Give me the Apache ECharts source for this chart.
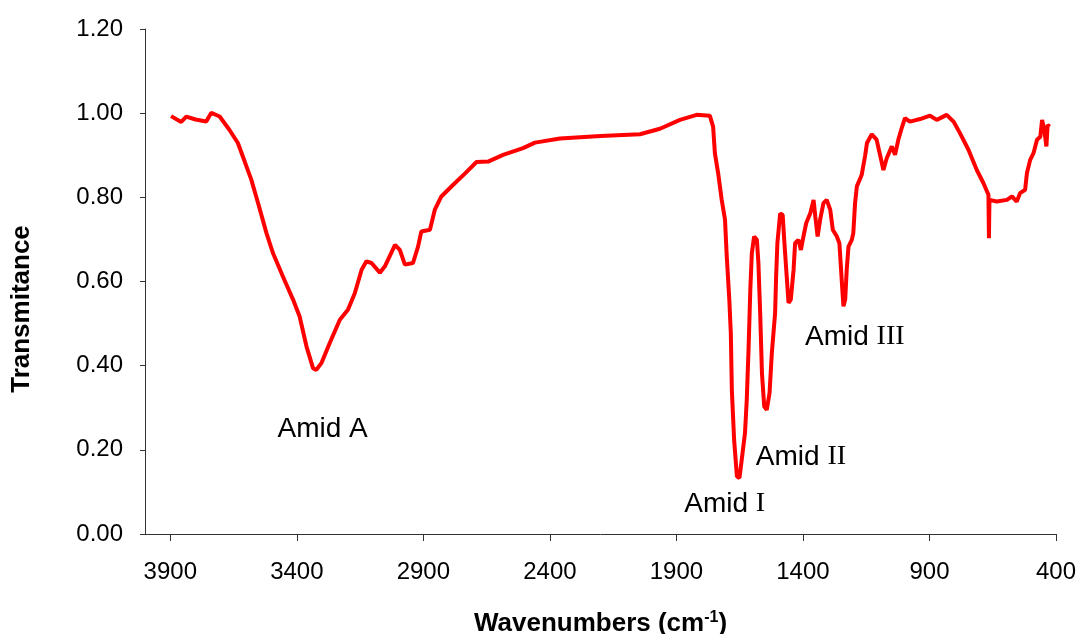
<!DOCTYPE html>
<html>
<head>
<meta charset="utf-8">
<script src="https://cdn.jsdelivr.net/npm/echarts@6/dist/echarts.min.js"></script>
<style>
  html, body { margin: 0; padding: 0; background: #fff; }
  #chart { width: 1082px; height: 634px; }
</style>
</head>
<body>
<div id="chart"></div>
<script>
// FTIR spectrum, high to low wavenumber
const wavenumbers = [
  3897, 3857, 3837, 3800, 3758, 3738, 3705, 3666, 3633, 3606, 3580, 3553, 3520, 3494,
  3455, 3415, 3389, 3362, 3336, 3323, 3303, 3270, 3230, 3198, 3171, 3144, 3125, 3105,
  3072, 3052, 3012, 2993, 2973, 2941, 2921, 2908, 2874, 2855, 2829, 2782, 2735, 2690,
  2644, 2585, 2506, 2459, 2360, 2200, 2044, 1965, 1886, 1820, 1768, 1755, 1748, 1735,
  1721, 1708, 1701, 1691, 1685, 1681, 1672, 1661, 1651, 1642, 1629, 1622, 1615, 1608,
  1602, 1593, 1582, 1576, 1569, 1562, 1553, 1543, 1532, 1523, 1510, 1506, 1501, 1490,
  1480, 1474, 1466, 1457, 1448, 1437, 1431, 1418, 1408, 1398, 1387, 1371, 1358, 1351,
  1342, 1332, 1319, 1306, 1292, 1282, 1266, 1256, 1246, 1240, 1233, 1227, 1220, 1207,
  1201, 1194, 1187, 1168, 1154, 1147, 1128, 1109, 1095, 1082, 1069, 1049, 1036, 1023,
  1010, 997, 977, 937, 898, 871, 832, 805, 779, 746, 713, 687, 667, 665,
  663, 634, 594, 574, 555, 542, 522, 515, 502, 489, 475, 462, 455, 446,
  438, 433, 425
]
const transmittance = [
  0.993, 0.979, 0.992, 0.985, 0.980, 1.001, 0.992, 0.960, 0.929, 0.885, 0.842, 0.786, 0.715, 0.667,
  0.612, 0.557, 0.517, 0.446, 0.394, 0.390, 0.406, 0.454, 0.509, 0.533, 0.572, 0.628, 0.648, 0.644,
  0.621, 0.636, 0.687, 0.675, 0.640, 0.644, 0.683, 0.719, 0.723, 0.770, 0.802, 0.830, 0.857, 0.884,
  0.885, 0.901, 0.917, 0.930, 0.940, 0.946, 0.950, 0.963, 0.984, 0.996, 0.994, 0.968, 0.905, 0.857,
  0.794, 0.747, 0.659, 0.557, 0.477, 0.343, 0.224, 0.137, 0.133, 0.176, 0.240, 0.319, 0.438, 0.580,
  0.667, 0.707, 0.699, 0.644, 0.525, 0.382, 0.303, 0.295, 0.335, 0.430, 0.525, 0.612, 0.691, 0.762,
  0.758, 0.699, 0.628, 0.549, 0.557, 0.628, 0.691, 0.699, 0.675, 0.707, 0.739, 0.762, 0.794, 0.754,
  0.707, 0.747, 0.786, 0.794, 0.770, 0.723, 0.707, 0.691, 0.596, 0.541, 0.557, 0.628, 0.683, 0.699,
  0.715, 0.786, 0.826, 0.853, 0.900, 0.929, 0.950, 0.937, 0.900, 0.865, 0.893, 0.921, 0.901, 0.937,
  0.964, 0.988, 0.980, 0.986, 0.994, 0.984, 0.996, 0.980, 0.952, 0.913, 0.865, 0.834, 0.806, 0.703,
  0.794, 0.790, 0.794, 0.802, 0.790, 0.810, 0.818, 0.857, 0.889, 0.905, 0.937, 0.944, 0.984, 0.960,
  0.921, 0.972, 0.968
]

const xTicks = [3900, 3400, 2900, 2400, 1900, 1400, 900, 400]

// band labels: name part, roman numeral part, position in data units
const bandNames = ['Amid A', 'Amid ', 'Amid ', 'Amid ']
const bandRoman = ['', 'I', 'II', 'III']
const bandX = [3298, 1709, 1408, 1195]
const bandY = [0.25, 0.071, 0.183, 0.468]

const SANS = '"Liberation Sans", Arial, sans-serif'
const SERIF = '"Liberation Serif", "Times New Roman", serif'

const chart = echarts.init(document.getElementById('chart'))

const option = {
  backgroundColor: '#fff',
  animation: false,
  grid: { left: 145, right: 26, top: 29, bottom: 100, containLabel: false, outerBoundsMode: 'none' },
  xAxis: {
    type: 'value',
    min: 400,
    max: 4000,
    inverse: true,
    name: 'Wavenumbers (cm{sup|-1})',
    nameLocation: 'middle',
    nameGap: 76,
    nameTextStyle: {
      fontFamily: SANS, fontSize: 26, fontWeight: 'bold', color: '#000',
      rich: {
        sup: { fontFamily: SANS, fontSize: 16, fontWeight: 'bold', color: '#000', padding: [0, 0, 12, 0] }
      }
    },
    axisLine: { show: true, lineStyle: { color: '#333', width: 1 } },
    axisTick: { show: true, length: 7, customValues: xTicks, lineStyle: { color: '#333' } },
    axisLabel: {
      customValues: xTicks,
      margin: 26,
      fontFamily: SANS, fontSize: 24, color: '#000',
      formatter: v => String(v)
    },
    splitLine: { show: false }
  },
  yAxis: {
    type: 'value',
    min: 0,
    max: 1.2,
    interval: 0.2,
    name: 'Transmitance',
    nameLocation: 'middle',
    nameGap: 110,
    nameTextStyle: {
      fontFamily: SANS, fontSize: 26, fontWeight: 'bold', color: '#000',
      padding: [0, 55, 0, 0]
    },
    axisLine: { show: true, lineStyle: { color: '#333', width: 1 } },
    axisTick: { show: true, length: 5, lineStyle: { color: '#333' } },
    axisLabel: {
      margin: 22,
      fontFamily: SANS, fontSize: 24, color: '#000',
      formatter: v => v.toFixed(2)
    },
    splitLine: { show: false }
  },
  series: [
    {
      type: 'line',
      data: wavenumbers.map((w, i) => [w, transmittance[i]]),
      showSymbol: false,
      lineStyle: { color: '#ff0000', width: 4 },
      z: 2
    },
    {
      type: 'scatter',
      symbolSize: 0,
      silent: true,
      itemStyle: { opacity: 1 },
      data: bandX.map((x, i) => ({ value: [x, bandY[i]], name: i })),
      label: {
        show: true,
        position: [0, 0],
        align: 'center',
        verticalAlign: 'middle',
        opacity: 1,
        formatter: p => bandNames[p.name] + (bandRoman[p.name] ? '{r|' + bandRoman[p.name] + '}' : ''),
        fontFamily: SANS, fontSize: 28, color: '#000000',
        rich: { r: { fontFamily: SERIF, fontSize: 28, color: '#000000' } }
      },
      emphasis: { disabled: true },
      z: 3
    }
  ]
}

chart.setOption(option)
</script>
</body>
</html>
